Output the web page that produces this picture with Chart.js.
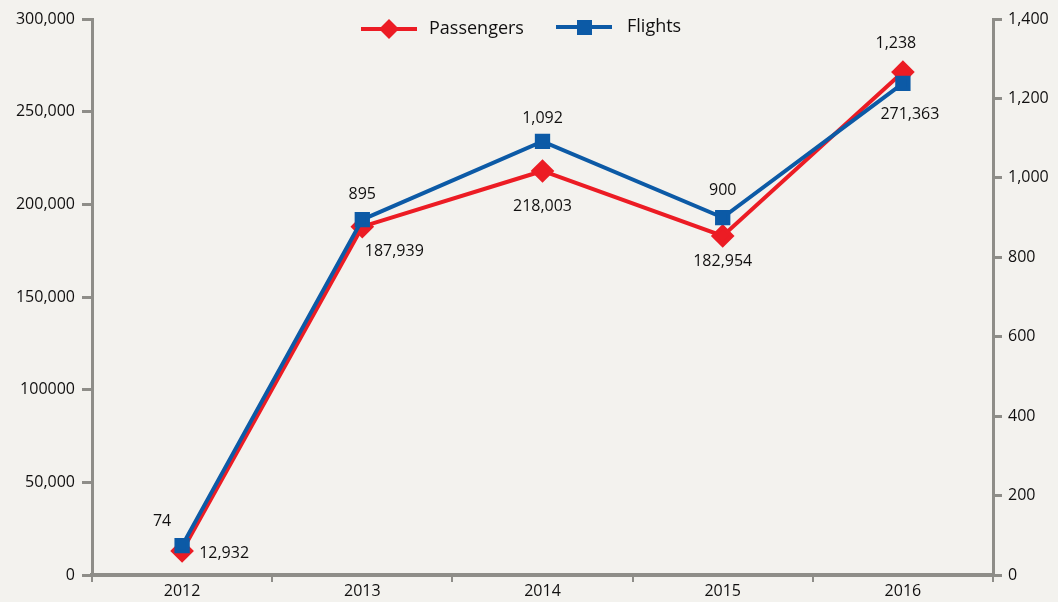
<!DOCTYPE html>
<html>
<head>
<meta charset="utf-8">
<script src="https://cdn.jsdelivr.net/npm/chart.js@4/dist/chart.umd.min.js"></script>
<style>
  html, body { margin: 0; padding: 0; background: #f3f2ee; }
  #wrap { width: 1058px; height: 602px; position: relative; }
</style>
</head>
<body>
<div id="wrap"><canvas id="chart" width="1058" height="602"></canvas></div>
<script>
const years = ["2012", "2013", "2014", "2015", "2016"];
const passengers = [12932, 187939, 218003, 182954, 271363];
const flights = [74, 895, 1092, 900, 1238];
const leftTicks = ["0", "50,000", "100000", "150,000", "200,000", "250,000", "300,000"];
const rightTicks = ["0", "200", "400", "600", "800", "1,000", "1,200", "1,400"];

// label offsets from each point (px)
const passengerLabelOffsets = [[42, 2], [32, 25], [0, 35], [0, 26], [7, 42]];
const flightLabelOffsets = [[-20, -24], [0, -25], [0, -23], [0, -27], [-7, -40]];

const RED = "#ec1c24";
const BLUE = "#0c5aa6";
const AXIS = "#8e8d88";
const TEXT = "#111010";
const FONT = "'Open Sans', 'Noto Sans', sans-serif";

const bgPlugin = {
  id: "bg",
  beforeDraw(chart) {
    const c = chart.ctx;
    c.save();
    c.fillStyle = "#f3f2ee";
    c.fillRect(0, 0, chart.width, chart.height);
    c.restore();
  },
};

const labelPlugin = {
  id: "pointLabels",
  afterDatasetsDraw(chart) {
    const c = chart.ctx;
    c.save();
    c.font = "16px " + FONT;
    c.fillStyle = TEXT;
    c.textAlign = "center";
    c.textBaseline = "middle";
    chart.data.datasets.forEach((ds, i) => {
      const meta = chart.getDatasetMeta(i);
      meta.data.forEach((pt, j) => {
        const [dx, dy] = ds.labelOffsets[j];
        c.fillText(ds.data[j].toLocaleString("en-US"), pt.x + dx, pt.y + dy);
      });
    });
    c.restore();
  },
};

const legendPlugin = {
  id: "lineLegend",
  afterDraw(chart) {
    const c = chart.ctx;
    const y = 29;
    c.save();
    c.font = "18px " + FONT;
    c.fillStyle = TEXT;
    c.textBaseline = "middle";
    // Passengers
    c.strokeStyle = RED; c.lineWidth = 4;
    c.beginPath(); c.moveTo(361, y); c.lineTo(417, y); c.stroke();
    c.fillStyle = RED;
    c.beginPath(); c.moveTo(389, y - 10); c.lineTo(399, y); c.lineTo(389, y + 10); c.lineTo(379, y); c.closePath(); c.fill();
    c.fillStyle = TEXT;
    c.fillText("Passengers", 429, y);
    // Flights
    c.strokeStyle = BLUE;
    c.beginPath(); c.moveTo(556, y - 2); c.lineTo(612, y - 2); c.stroke();
    c.fillStyle = BLUE;
    c.fillRect(577, y - 9, 15, 15);
    c.fillStyle = TEXT;
    c.fillText("Flights", 627, y - 2);
    c.restore();
  },
};

new Chart(document.getElementById("chart"), {
  type: "line",
  data: {
    labels: years,
    datasets: [
      {
        label: "Flights",
        data: flights,
        yAxisID: "yRight",
        borderColor: BLUE,
        backgroundColor: BLUE,
        borderWidth: 4,
        pointStyle: "rect",
        pointRadius: 8,
        pointHoverRadius: 8,
        tension: 0,
        order: 0,
        clip: false,
        labelOffsets: flightLabelOffsets,
      },
      {
        label: "Passengers",
        data: passengers,
        yAxisID: "yLeft",
        borderColor: RED,
        backgroundColor: RED,
        borderWidth: 4,
        pointStyle: "rectRot",
        pointRadius: 9,
        pointHoverRadius: 9,
        tension: 0,
        order: 1,
        clip: false,
        labelOffsets: passengerLabelOffsets,
      },
    ],
  },
  options: {
    responsive: false,
    animation: false,
    layout: { padding: { top: 19, left: 0, right: 0, bottom: 0 } },
    plugins: { legend: { display: false }, tooltip: { enabled: false } },
    scales: {
      x: {
        type: "category",
        offset: true,
        afterFit(s) { s.height = 27; },
        border: { color: AXIS, width: 4 },
        grid: { offset: true, drawOnChartArea: false, color: AXIS, lineWidth: 2, tickLength: 7 },
        ticks: { color: TEXT, font: { family: FONT, size: 16 }, padding: 0, maxRotation: 0 },
      },
      yLeft: {
        position: "left",
        min: 0,
        max: 300000,
        afterFit(s) { s.width = 92; },
        afterBuildTicks(s) { s.ticks = leftTicks.map((_, i) => ({ value: i * 50000 })); },
        border: { color: AXIS, width: 3 },
        grid: { drawOnChartArea: false, color: AXIS, lineWidth: 3, tickLength: 10 },
        ticks: {
          color: TEXT,
          font: { family: FONT, size: 16 },
          padding: 7,
          callback: (v, i) => leftTicks[i],
        },
      },
      yRight: {
        position: "right",
        min: 0,
        max: 1400,
        afterFit(s) { s.width = 65; },
        afterBuildTicks(s) { s.ticks = rightTicks.map((_, i) => ({ value: i * 200 })); },
        border: { color: AXIS, width: 3 },
        grid: { drawOnChartArea: false, color: AXIS, lineWidth: 3, tickLength: 9 },
        ticks: {
          color: TEXT,
          font: { family: FONT, size: 16 },
          padding: 6,
          callback: (v, i) => rightTicks[i],
        },
      },
    },
  },
  plugins: [bgPlugin, labelPlugin, legendPlugin],
});
</script>
</body>
</html>
